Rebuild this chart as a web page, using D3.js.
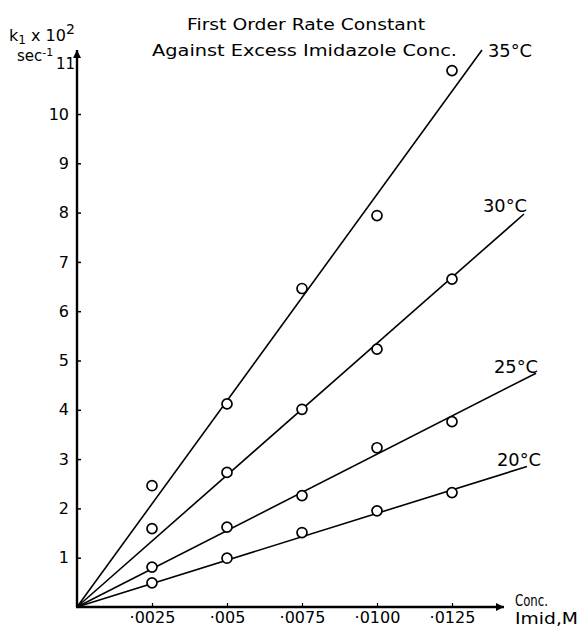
<!DOCTYPE html>
<html>
<head>
<meta charset="utf-8">
<script src="https://cdn.jsdelivr.net/npm/d3@7"></script>
<style>
  body { margin: 0; background: #fff; }
  text { font-family: "DejaVu Sans", "Liberation Sans", Arial, sans-serif; fill: #000; }
</style>
</head>
<body>
<svg id="chart" width="577" height="629"></svg>
<script>
// ---------------- data ----------------
var conc = [0.0025, 0.005, 0.0075, 0.0100, 0.0125];
var k20 = [0.49, 0.99, 1.51, 1.95, 2.32];
var k25 = [0.81, 1.62, 2.26, 3.23, 3.76];
var k30 = [1.59, 2.73, 4.01, 5.23, 6.65];
var k35 = [2.46, 4.12, 6.46, 7.94, 10.88];
var temps = ["20°C", "25°C", "30°C", "35°C"];
// fitted straight lines through the origin: slope (k per M) and where each stops
var fitSlope = [190, 310, 535, 837];
var fitEnd = [0.0150, 0.0153, 0.0149, 0.0135];
var yTicks = [1, 2, 3, 4, 5, 6, 7, 8, 9, 10];
var xTickLabels = ["·0025", "·005", "·0075", "·0100", "·0125"];

var series = [k20, k25, k30, k35];

var svg = d3.select("#chart");

var x = d3.scaleLinear().domain([0, 0.0125]).range([77, 452]);
var y = d3.scaleLinear().domain([0, 10]).range([607, 114]);

// arrow heads
var defs = svg.append("defs");
defs.append("marker")
    .attr("id", "arrow")
    .attr("viewBox", "0 0 10 10")
    .attr("refX", 10).attr("refY", 5)
    .attr("markerWidth", 12).attr("markerHeight", 8)
    .attr("markerUnits", "userSpaceOnUse")
    .attr("orient", "auto")
  .append("path")
    .attr("d", "M0,0 L10,5 L0,10 Z")
    .style("fill", "#000");

// ---------------- axes ----------------
svg.append("line")
    .attr("x1", x(0)).attr("y1", y(0))
    .attr("x2", x(0)).attr("y2", 50)
    .style("stroke", "#000").style("stroke-width", 2.4)
    .attr("marker-end", "url(#arrow)");

svg.append("line")
    .attr("x1", x(0) - 1).attr("y1", y(0))
    .attr("x2", 504).attr("y2", y(0))
    .style("stroke", "#000").style("stroke-width", 2.4)
    .attr("marker-end", "url(#arrow)");

var yAxis = svg.append("g")
    .attr("transform", "translate(" + x(0) + ",0)")
    .call(d3.axisLeft(y).tickValues(yTicks).tickSize(-4).tickPadding(8).tickFormat(d3.format("d")));
yAxis.select(".domain").remove();
yAxis.selectAll("line").style("stroke-width", 1.5);
yAxis.selectAll("text")
    .style("font-size", "16px")
    .style("font-family", "DejaVu Sans, sans-serif");

var xAxis = svg.append("g")
    .attr("transform", "translate(0," + y(0) + ")")
    .call(d3.axisBottom(x).tickValues(conc).tickSize(-4).tickPadding(5)
        .tickFormat(function(d, i) { return xTickLabels[i]; }));
xAxis.select(".domain").remove();
xAxis.selectAll("line").style("stroke-width", 1.2);
xAxis.selectAll("text")
    .style("font-size", "16px")
    .style("font-family", "DejaVu Sans, sans-serif");

// "11" beside the arrow
svg.append("text")
    .attr("x", 75).attr("y", 69)
    .attr("text-anchor", "end")
    .style("font-size", "15px")
    .text("11");

// axis titles
var yl = svg.append("text").attr("x", 9).attr("y", 41).style("font-size", "16px");
yl.append("tspan").text("k");
yl.append("tspan").attr("dy", 3).style("font-size", "12px").text("1");
yl.append("tspan").attr("dy", -3).text(" x 10");
yl.append("tspan").attr("dy", -7).style("font-size", "14px").text("2");

var ys = svg.append("text").attr("x", 17).attr("y", 61).style("font-size", "15px");
ys.append("tspan").text("sec");
ys.append("tspan").attr("dy", -5).style("font-size", "11px").text("-1");

svg.append("text").attr("x", 515).attr("y", 606).style("font-size", "15px")
    .attr("textLength", 33).attr("lengthAdjust", "spacingAndGlyphs").text("Conc.");
svg.append("text").attr("x", 515).attr("y", 624).style("font-size", "15px")
    .attr("textLength", 63).attr("lengthAdjust", "spacingAndGlyphs").text("Imid,M");

// chart title
svg.append("text").attr("x", 187).attr("y", 30).style("font-size", "16px")
    .attr("textLength", 238).attr("lengthAdjust", "spacingAndGlyphs")
    .text("First Order Rate Constant");
svg.append("text").attr("x", 152).attr("y", 56).style("font-size", "16px")
    .attr("textLength", 305).attr("lengthAdjust", "spacingAndGlyphs")
    .text("Against  Excess  Imidazole Conc.");

// ---------------- fitted lines ----------------
var line = d3.line().x(function(d) { return x(d[0]); }).y(function(d) { return y(d[1]); });

svg.selectAll(".fit")
    .data(fitSlope)
    .enter().append("path")
    .attr("class", "fit")
    .attr("d", function(s, i) { return line([[0, 0], [fitEnd[i], s * fitEnd[i]]]); })
    .style("fill", "none")
    .style("stroke", "#000")
    .style("stroke-width", 1.6);

// ---------------- data points ----------------
series.forEach(function(vals) {
    svg.append("g").selectAll("circle")
        .data(vals)
        .enter().append("circle")
        .attr("cx", function(d, i) { return x(conc[i]); })
        .attr("cy", function(d) { return y(d); })
        .attr("r", 5)
        .style("fill", "#fff")
        .style("stroke", "#000")
        .style("stroke-width", 1.7);
});

// temperature labels
var labelPos = [[497, 466], [483, 373], [483, 212], [488, 57]];
labelPos[1][0] = 494;
svg.selectAll(".temp")
    .data(temps)
    .enter().append("text")
    .attr("class", "temp")
    .attr("x", function(d, i) { return labelPos[i][0]; })
    .attr("y", function(d, i) { return labelPos[i][1]; })
    .attr("textLength", 44).attr("lengthAdjust", "spacingAndGlyphs")
    .style("font-size", "18px")
    .text(function(d) { return d; });
</script>
</body>
</html>
